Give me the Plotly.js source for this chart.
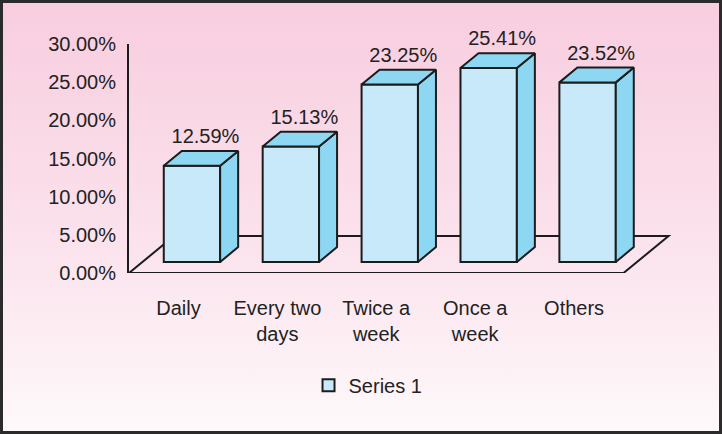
<!DOCTYPE html>
<html>
<head>
<meta charset="utf-8">
<script src="https://cdn.plot.ly/plotly-3.0.1.min.js"></script>
<style>
  html, body { margin: 0; padding: 0; }
  body { width: 722px; height: 434px; position: relative; overflow: hidden;
         background: linear-gradient(to bottom, #f8cddf 0%, #fbe2ec 55%, #fef9fb 100%); }
  #frame { position: absolute; left: 0; top: 0; width: 722px; height: 434px;
           box-sizing: border-box; border: 3px solid #2b2b2b; pointer-events: none; }
  #myGraph { position: absolute; left: 0; top: 0; width: 722px; height: 434px; }
</style>
</head>
<body>
<div id="myGraph"></div>
<div id="frame"></div>
<script>
// data
let categories = ["Daily", "Every two<br>days", "Twice a<br>week", "Once a<br>week", "Others"];
let shares = [12.59, 15.13, 23.25, 25.41, 23.52];
let yTicks = [0, 5, 10, 15, 20, 25, 30];
let seriesName = "Series 1";

// fake 3d: depth offset of the floor in data units
let DX = 0.455, DY = 4.84;
let barFront = 0.3, barBack = 0.7, barWidth = 0.57;
let frontColor = "#c8e9f9", sideColor = "#8ed7f3", edge = "#1c1c1c";

let idx = categories.map((c, i) => i);
let base = barFront * DY;
let xFront = idx.map(i => i + barFront * DX);
let dd = (barBack - barFront);

// side and top faces, built from the values
let sideX = [], sideY = [], topX = [], topY = [];
shares.forEach((v, i) => {
    let xl = xFront[i] - barWidth / 2, xr = xFront[i] + barWidth / 2;
    let top = base + v;
    sideX.push(xr, xr, xr + dd * DX, xr + dd * DX, xr, null);
    sideY.push(base, top, top + dd * DY, base + dd * DY, base, null);
    topX.push(xl, xr, xr + dd * DX, xl + dd * DX, xl, null);
    topY.push(top, top, top + dd * DY, top + dd * DY, top, null);
});

let front = {
    type: "bar",
    name: seriesName,
    x: xFront,
    y: shares,
    base: base,
    width: barWidth,
    marker: { color: frontColor, line: { color: edge, width: 2 } },
    hoverinfo: "skip"
};

let sides = {
    type: "scatter", mode: "lines", x: sideX, y: sideY,
    fill: "toself", fillcolor: sideColor,
    line: { color: edge, width: 2 }, showlegend: false, hoverinfo: "skip"
};

let tops = {
    type: "scatter", mode: "lines", x: topX, y: topY,
    fill: "toself", fillcolor: sideColor,
    line: { color: edge, width: 2 }, showlegend: false, hoverinfo: "skip"
};

let labels = {
    type: "scatter", mode: "text",
    x: idx.map(i => i + 0.6 * DX),
    y: shares.map(v => base + v + dd * DY + 0.4),
    text: shares.map(v => v.toFixed(2) + "%"),
    textposition: "top center",
    textfont: { size: 20, color: "#222" },
    cliponaxis: false, showlegend: false, hoverinfo: "skip"
};

let n = categories.length;
let floorPath = "M" + (-0.5) + "," + 0 +
    " L" + (n - 0.5) + "," + 0 +
    " L" + (n - 0.5 + DX) + "," + DY +
    " L" + (-0.5 + DX) + "," + DY + " Z";

let layout = {
    width: 722,
    height: 434,
    margin: { l: 129, r: 48.5, t: 43.8, b: 161 },
    paper_bgcolor: "rgba(0,0,0,0)",
    plot_bgcolor: "rgba(0,0,0,0)",
    font: { family: "Liberation Sans, Arial, sans-serif", size: 20, color: "#222" },
    showlegend: true,
    legend: {
        orientation: "h", x: 0.33, xanchor: "left", y: -0.49, yanchor: "middle",
        bgcolor: "rgba(0,0,0,0)", font: { size: 20 }
    },
    xaxis: {
        range: [-0.5, n],
        tickvals: idx, ticktext: categories,
        ticks: "outside", ticklen: 17, tickcolor: "rgba(0,0,0,0)",
        showgrid: false, zeroline: false, showline: false
    },
    yaxis: {
        range: [0, 30],
        tickvals: yTicks, ticktext: yTicks.map(t => t.toFixed(2) + "%"),
        ticks: "outside", ticklen: 7, tickcolor: "rgba(0,0,0,0)",
        showgrid: false, zeroline: false,
        showline: true, linecolor: edge, linewidth: 2
    },
    shapes: [{
        type: "path", xref: "x", yref: "y", layer: "below",
        path: floorPath, line: { color: edge, width: 2 }
    }]
};

Plotly.newPlot("myGraph", [front, sides, tops, labels], layout, { displayModeBar: false, staticPlot: true });
</script>
</body>
</html>
